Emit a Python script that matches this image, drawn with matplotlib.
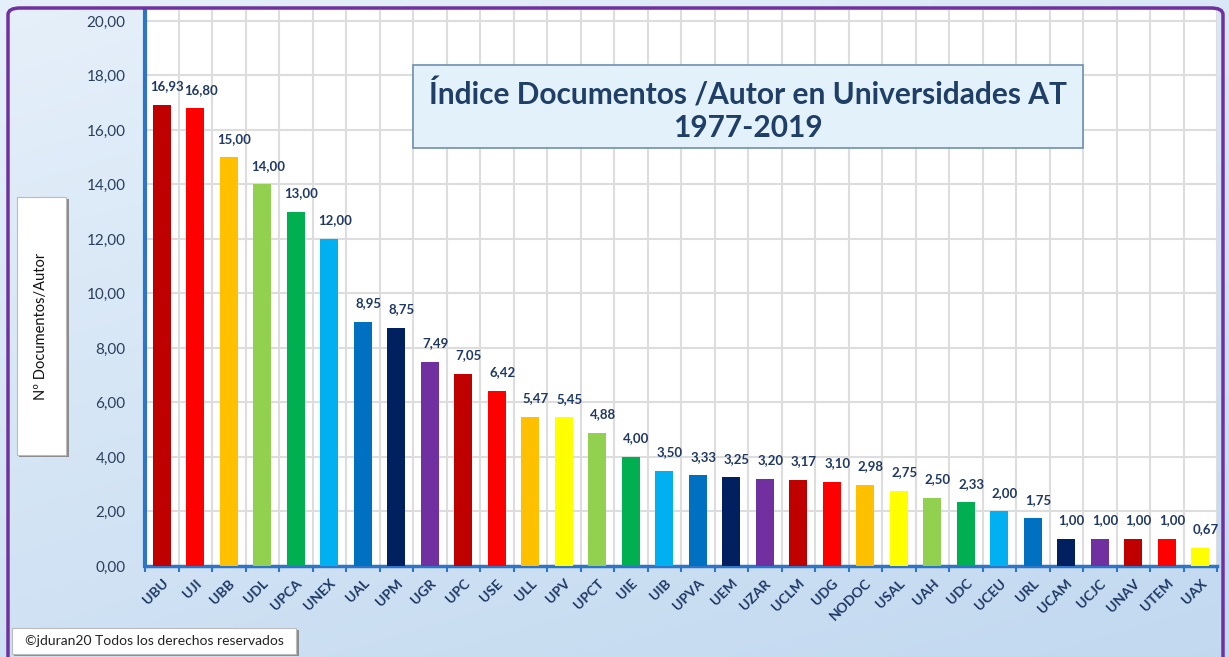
import matplotlib.pyplot as plt
import numpy as np
from matplotlib.patches import FancyBboxPatch, Rectangle

plt.rcParams['font.family'] = ['Lato', 'DejaVu Sans']

# Data
universidades = ["UBU", "UJI", "UBB", "UDL", "UPCA", "UNEX", "UAL", "UPM", "UGR",
                 "UPC", "USE", "ULL", "UPV", "UPCT", "UIE", "UIB", "UPVA", "UEM",
                 "UZAR", "UCLM", "UDG", "NODOC", "USAL", "UAH", "UDC", "UCEU",
                 "URL", "UCAM", "UCJC", "UNAV", "UTEM", "UAX"]
indice = [16.93, 16.80, 15.00, 14.00, 13.00, 12.00, 8.95, 8.75, 7.49,
          7.05, 6.42, 5.47, 5.45, 4.88, 4.00, 3.50, 3.33, 3.25,
          3.20, 3.17, 3.10, 2.98, 2.75, 2.50, 2.33, 2.00,
          1.75, 1.00, 1.00, 1.00, 1.00, 0.67]
colores = ["#C00000", "#FF0000", "#FFC000", "#92D050", "#00B050", "#00B0F0", "#0070C0", "#002060", "#7030A0",
           "#C00000", "#FF0000", "#FFC000", "#FFFF00", "#92D050", "#00B050", "#00B0F0", "#0070C0", "#002060",
           "#7030A0", "#C00000", "#FF0000", "#FFC000", "#FFFF00", "#92D050", "#00B050", "#00B0F0",
           "#0070C0", "#002060", "#7030A0", "#C00000", "#FF0000", "#FFFF00"]
yticks = [0, 2, 4, 6, 8, 10, 12, 14, 16, 18, 20]

W, H = 1229, 657
fig = plt.figure(figsize=(W / 100, H / 100), dpi=100)

# background gradient
bg = fig.add_axes([0, 0, 1, 1], zorder=-10)
gy, gx = np.mgrid[0:1:200j, 0:1:200j]
t = 0.65 * gy + 0.35 * gx
c0 = np.array([0.90, 0.94, 0.98])
c1 = np.array([0.76, 0.85, 0.94])
img = c0[None, None, :] * (1 - t[..., None]) + c1[None, None, :] * t[..., None]
bg.imshow(img, extent=[0, 1, 0, 1], aspect='auto', origin='upper')
bg.set_axis_off()

def fx(px):
    return px / W

def fy(py):
    return 1 - py / H

# purple frame
fig.patches.append(FancyBboxPatch((fx(8), fy(680)), fx(1223) - fx(8), fy(8) - fy(680),
                                  boxstyle="round,pad=0,rounding_size=0.01",
                                  transform=fig.transFigure, fill=False,
                                  edgecolor="#7030A0", linewidth=2.5, zorder=1))

ax = fig.add_axes([fx(145), fy(566), fx(1217) - fx(145), fy(10) - fy(566)])
ax.set_facecolor("white")
x = np.arange(len(universidades))
bars = ax.bar(x, indice, width=0.55, color=colores, zorder=3)

for xi, v in zip(x, indice):
    ax.annotate(f"{v:.2f}".replace(".", ","), (xi, v), xytext=(4, 9),
                textcoords="offset points", ha="center", va="bottom",
                fontsize=9.5, fontweight="bold", color="#1F3864")

ax.set_xlim(-0.5, len(universidades) - 0.5)
ax.set_ylim(0, 20.4)
ax.set_yticks(yticks)
ax.set_yticklabels([f"{v:.2f}".replace(".", ",") for v in yticks],
                   fontsize=11, color="#2B3F5C")
ax.set_xticks(x)
ax.set_xticklabels(universidades, rotation=45, ha="right", rotation_mode="anchor",
                   fontsize=10, fontweight="bold", color="#1F3864")
ax.set_xticks(np.arange(-0.5, len(universidades), 1), minor=True)
ax.tick_params(axis="x", which="major", length=0, pad=8)
ax.tick_params(axis="x", which="minor", length=4, color="#2E75C8", width=1.5)
ax.tick_params(axis="y", length=0, pad=14)
ax.grid(axis="y", color="#DDDDDD", linewidth=1.5, zorder=0)
ax.grid(axis="x", which="minor", color="#DDDDDD", linewidth=1.5, zorder=0)
for s in ["top", "right"]:
    ax.spines[s].set_visible(False)
ax.spines["left"].set_color("#2E75C8")
ax.spines["left"].set_linewidth(3)
ax.spines["bottom"].set_color("#2E75C8")
ax.spines["bottom"].set_linewidth(2.5)

# title box
fig.patches.append(FancyBboxPatch((fx(413), fy(148)), fx(1083) - fx(413), fy(65) - fy(148),
                                  boxstyle="square,pad=0", transform=fig.transFigure,
                                  facecolor="#E3F1FB", edgecolor="#6F8FB0", linewidth=1.2, zorder=5))
fig.text(fx(748), fy(94), "Índice Documentos /Autor en Universidades AT", ha="center", va="center",
         fontsize=21.5, fontweight="bold", color="#1F3F66", zorder=6)
fig.text(fx(748), fy(128), "1977-2019", ha="center", va="center",
         fontsize=21.5, fontweight="bold", color="#1F3F66", zorder=6)

# y label box
fig.patches.append(Rectangle((fx(19), fy(457)), fx(69) - fx(19), fy(199) - fy(457),
                             transform=fig.transFigure, facecolor="#8C8C8C",
                             edgecolor="none", zorder=5))
fig.patches.append(Rectangle((fx(17), fy(455)), fx(66) - fx(17), fy(197) - fy(455),
                             transform=fig.transFigure, facecolor="white",
                             edgecolor="#BBBBBB", linewidth=0.8, zorder=6))
fig.text(fx(41), fy(326), "Nº Documentos/Autor", rotation=90, ha="center", va="center",
         fontsize=10.5, color="#111111", zorder=7)

# copyright box
fig.patches.append(Rectangle((fx(14), fy(656)), fx(299) - fx(14), fy(630) - fy(656),
                             transform=fig.transFigure, facecolor="#8C8C8C",
                             edgecolor="none", zorder=5))
fig.patches.append(Rectangle((fx(12), fy(654)), fx(296) - fx(12), fy(628) - fy(654),
                             transform=fig.transFigure, facecolor="white",
                             edgecolor="#BBBBBB", linewidth=0.8, zorder=6))
fig.text(fx(154), fy(641), "©jduran20 Todos los derechos reservados", ha="center", va="center",
         fontsize=10, color="#222222", zorder=7)

fig.savefig("out.png", dpi=100)
